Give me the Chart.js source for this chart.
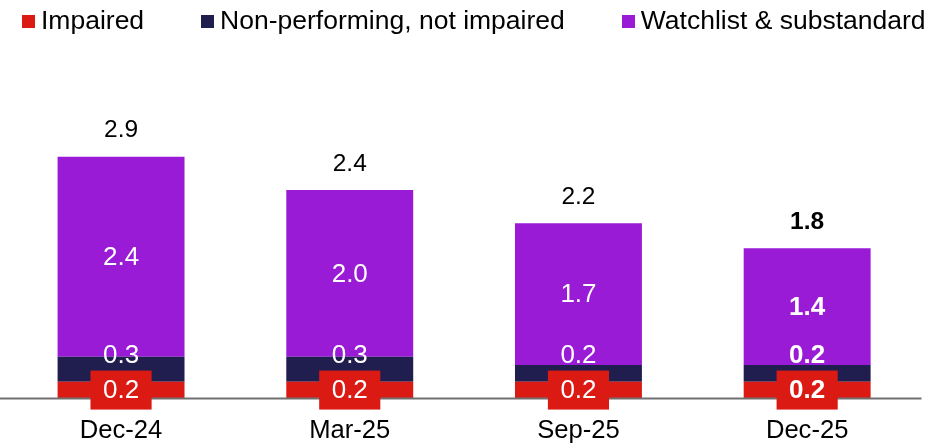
<!DOCTYPE html>
<html>
<head>
<meta charset="utf-8">
<title>Watchlist & substandard exposures</title>
<script src="https://cdn.jsdelivr.net/npm/chart.js@4.4.1/dist/chart.umd.min.js"></script>
<style>
    html, body { margin: 0; padding: 0; background: #fff; }
    #wrap { position: relative; width: 935px; height: 443px; overflow: hidden; }
    #chart { position: absolute; left: 0; top: 0; }
    #legend {
        position: absolute; left: 22px; top: 2px; height: 36px;
        display: flex; align-items: center;
        font-family: 'Liberation Sans', Arial, sans-serif; font-size: 26.5px; color: #000;
    }
    .item { display: flex; align-items: center; margin-right: 57px; white-space: nowrap; }
    .box { width: 13px; height: 13px; margin-right: 6px; margin-top: 2px; }
</style>
</head>
<body>
<div id="wrap">
    <canvas id="chart" width="935" height="456"></canvas>
    <div id="legend"></div>
</div>
<script>
const categories = ['Dec-24', 'Mar-25', 'Sep-25', 'Dec-25'];
const impaired = [0.2, 0.2, 0.2, 0.2];
const nonPerforming = [0.3, 0.3, 0.2, 0.2];
const watchlist = [2.4, 2.0, 1.7, 1.4];
const totals = [2.9, 2.4, 2.2, 1.8];
const boldColumns = [false, false, false, true];

const seriesNames = ['Impaired', 'Non-performing, not impaired', 'Watchlist & substandard'];
const seriesColors = ['#dc1a14', '#201d4f', '#991bd6'];

const FONT = "'Liberation Sans', Arial, sans-serif";

// legend in html, drawn from the series names / colours
const legendEl = document.getElementById('legend');
seriesNames.forEach((name, i) => {
    const item = document.createElement('div');
    item.className = 'item';
    const box = document.createElement('span');
    box.className = 'box';
    box.style.background = seriesColors[i];
    const txt = document.createElement('span');
    txt.textContent = name;
    item.appendChild(box);
    item.appendChild(txt);
    legendEl.appendChild(item);
});

// baseline + value labels
const labelsPlugin = {
    id: 'valueLabels',
    afterDatasetsDraw(chart) {
        const ctx = chart.ctx;
        const area = chart.chartArea;
        const y0 = chart.scales.y.getPixelForValue(0);

        ctx.save();
        ctx.strokeStyle = '#707070';
        ctx.lineWidth = 2;
        ctx.beginPath();
        ctx.moveTo(0, y0);
        ctx.lineTo(area.right, y0);
        ctx.stroke();

        const red = chart.getDatasetMeta(0).data;
        const navy = chart.getDatasetMeta(1).data;
        const purple = chart.getDatasetMeta(2).data;

        ctx.textAlign = 'center';
        ctx.textBaseline = 'middle';

        categories.forEach((c, i) => {
            const weight = boldColumns[i] ? 'bold ' : '';
            ctx.font = weight + '26px ' + FONT;

            // impaired: white text on a red box
            const r = red[i];
            const rc = (r.y + r.base) / 2;
            const t = impaired[i].toFixed(1);
            const w = ctx.measureText(t).width + 25;
            ctx.fillStyle = seriesColors[0];
            ctx.fillRect(r.x - w / 2, rc - 19.5, w, 39);
            ctx.fillStyle = '#fff';
            ctx.fillText(t, r.x, rc + 1);

            // non-performing sits just above the red segment
            const n = navy[i];
            ctx.fillText(nonPerforming[i].toFixed(1), n.x, n.base - 26);

            // watchlist centred
            const p = purple[i];
            ctx.fillText(watchlist[i].toFixed(1), p.x, (p.y + p.base) / 2 + 1);

            // total on top
            ctx.fillStyle = '#000';
            ctx.font = weight + '24.5px ' + FONT;
            ctx.fillText(totals[i].toFixed(1), p.x, p.y - 26);
        });
        ctx.restore();
    }
};

const datasets = [impaired, nonPerforming, watchlist].map((d, i) => ({
    label: seriesNames[i],
    data: d,
    backgroundColor: seriesColors[i],
    borderWidth: 0,
    categoryPercentage: 1,
    barPercentage: 0.555
}));

new Chart(document.getElementById('chart').getContext('2d'), {
    type: 'bar',
    data: { labels: categories, datasets: datasets },
    options: {
        responsive: false,
        animation: false,
        devicePixelRatio: 1,
        layout: { padding: { left: 6.7, right: 13.5, top: 65, bottom: 0 } },
        plugins: {
            legend: { display: false },
            tooltip: { enabled: false }
        },
        scales: {
            x: {
                stacked: true,
                grid: { display: false },
                border: { display: false },
                ticks: {
                    color: '#000',
                    padding: 12,
                    font: { family: FONT, size: 25.6, lineHeight: 1 }
                }
            },
            y: {
                stacked: true,
                display: false,
                min: 0,
                max: 4
            }
        }
    },
    plugins: [labelsPlugin]
});
</script>
</body>
</html>
